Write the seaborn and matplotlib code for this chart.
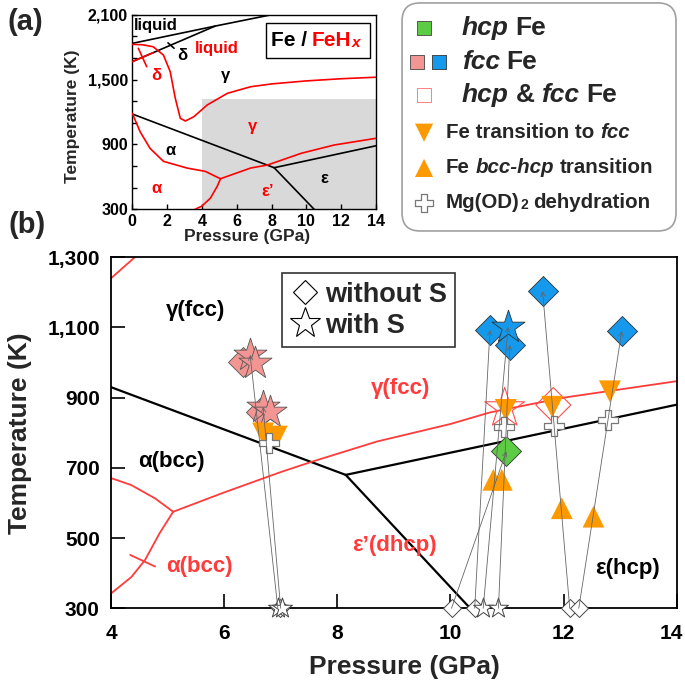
import numpy as np
import pandas as pd
import matplotlib.pyplot as plt
import matplotlib.transforms as mtransforms
import seaborn as sns
from matplotlib.lines import Line2D
from matplotlib.patches import Rectangle, FancyBboxPatch

sns.set_theme(style="ticks")
plt.rcParams["font.family"] = ["Liberation Sans", "DejaVu Sans"]
plt.rcParams["font.weight"] = "bold"
plt.rcParams["axes.labelweight"] = "bold"
plt.rcParams["axes.edgecolor"] = "black"
plt.rcParams["xtick.color"] = "black"
plt.rcParams["ytick.color"] = "black"

RED_A = "#ff0000"
RED_B = "#ff3b3b"
PINK = "#f39592"
BLUE = "#1499ec"
GREEN = "#5ccc45"
ORANGE = "#ff9900"

# ---------------- panel (a): Fe / FeHx phase diagram ----------------
A_FE_AG_P = [0, 8.15]
A_FE_AG_T = [1182, 685]
A_FE_AE_P = [8.15, 10.45]
A_FE_AE_T = [685, 300]
A_FE_GE_P = [8.15, 14]
A_FE_GE_T = [685, 888]
A_FE_LIQ_P = [0, 4.76, 8.0]
A_FE_LIQ_T = [1835, 1995, 2100]
A_FE_DG_P = [0, 4.76]
A_FE_DG_T = [1666, 1995]
A_FE_TICK_P = [2.05, 2.4]
A_FE_TICK_T = [1840, 1790]

A_FEH_LIQ_P = [0, 0.6, 1.2, 1.79, 2.18, 2.47, 2.76, 3.05, 3.53, 4.3, 5.46, 6.8, 8, 10, 12, 14]
A_FEH_LIQ_T = [1826, 1822, 1804, 1727, 1573, 1327, 1142, 1117, 1156, 1265, 1373, 1434, 1460, 1488, 1508, 1522]
A_FEH_DG_P = [0, 1.2]
A_FEH_DG_T = [1666, 1749]
A_FEH_TICK_P = [0.35, 0.83]
A_FEH_TICK_T = [1789, 1619]
A_FEH_AUP_P = [0, 0.45, 1.02, 1.79, 3.14, 4.2, 4.78, 5.07]
A_FEH_AUP_T = [1188, 1018, 864, 744, 682, 651, 605, 583]
A_FEH_ALO_P = [5.07, 4.88, 4.49, 4.0, 3.6]
A_FEH_ALO_T = [583, 513, 404, 330, 300]
A_FEH_GE_P = [5.07, 6.8, 7.77, 9.7, 11.6, 14]
A_FEH_GE_T = [583, 682, 710, 818, 895, 957]

A_LABELS = [  # text, P, T, colour
    ("δ", 2.85, 1727, "black"), ("liquid", 4.88, 1789, RED_A),
    ("δ", 1.41, 1542, RED_A), ("γ", 5.36, 1542, "black"),
    ("γ", 6.9, 1064, RED_A), ("α", 2.18, 848, "black"),
    ("α", 1.41, 494, RED_A), ("ε’", 7.77, 463, RED_A),
    ("ε", 11.04, 587, "black"),
]

# ---------------- panel (b): experiments ----------------
B_FE_AG_P = [4, 8.15]
B_FE_AG_T = [930, 680]
B_FE_GE_P = [8.15, 14]
B_FE_GE_T = [680, 880]
B_FE_AE_P = [8.15, 10.35]
B_FE_AE_T = [680, 300]

B_FEH_TOP_P = [4, 4.42]
B_FEH_TOP_T = [1240, 1300]
B_FEH_GE_P = [5.1, 6, 7, 7.56, 8.7, 10, 10.7, 12, 14]
B_FEH_GE_T = [575, 630, 688, 718, 775, 825, 858, 900, 947]
B_FEH_AUP_P = [4, 4.36, 4.78, 5.1]
B_FEH_AUP_T = [671, 651, 613, 575]
B_FEH_ALO_P = [5.1, 4.86, 4.6, 4.36, 4.0]
B_FEH_ALO_T = [575, 514, 437, 389, 342]
B_FEH_TICK_P = [4.34, 4.78]
B_FEH_TICK_T = [452, 419]

HCP_D_P = [10.99]
HCP_D_T = [747]
FCC_PINK_D_P = [6.34, 6.66]
FCC_PINK_D_T = [1003, 860]
FCC_PINK_S_P = [6.46, 6.55, 6.69, 6.81]
FCC_PINK_S_T = [1022, 998, 874, 860]
FCC_BLUE_D_P = [10.7, 11.63, 11.05, 13.03]
FCC_BLUE_D_T = [1093, 1204, 1050, 1090]
FCC_BLUE_S_P = [11.02]
FCC_BLUE_S_T = [1102]
MIX_S_P = [10.96]
MIX_S_T = [870]
MIX_D_P = [11.82]
MIX_D_T = [879]
TO_FCC_P = [6.69, 6.93, 10.98, 11.8, 12.82]
TO_FCC_T = [798, 789, 865, 874, 918]
BCC_HCP_P = [10.76, 10.91, 11.97, 12.53]
BCC_HCP_T = [666, 666, 585, 561]
DEHYD_P = [6.8, 10.94, 11.83, 12.79]
DEHYD_T = [770, 817, 820, 837]
START_D_P = [6.99, 10.02, 10.43, 12.11, 12.27]
START_S_P = [6.95, 7.03, 10.58, 10.85]

PATH_START_P = [6.95, 7.0, 10.02, 10.43, 10.58, 10.85, 12.11, 12.27]
PATH_END_P = [6.46, 6.69, 10.99, 10.7, 11.02, 11.05, 11.63, 13.03]
PATH_END_T = [1022, 874, 747, 1093, 1102, 1050, 1204, 1090]

B_LABELS = [  # text, P, T, colour, ha
    ("γ(fcc)", 5.5, 1147, "black", "center"),
    ("α(bcc)", 5.07, 717, "black", "center"),
    ("α(bcc)", 5.57, 418, RED_B, "center"),
    ("γ(fcc)", 9.64, 925, RED_B, "right"),
    ("ε’(dhcp)", 9.76, 480, RED_B, "right"),
    ("ε(hcp)", 13.13, 414, "black", "center"),
]


def phase_line(ax, p, t, color, lw, z=2):
    sns.lineplot(x=p, y=t, sort=False, estimator=None, color=color,
                 lw=lw, ax=ax, zorder=z)


def points(ax, p, t, marker, s, face, edge, lw=0.6, z=3):
    sns.scatterplot(x=p, y=t, marker=marker, s=s, color=face,
                    edgecolor=edge, linewidth=lw, ax=ax, zorder=z,
                    clip_on=False, legend=False)


def rich_text(ax, x, y, parts, size, **kw):
    """Chain text pieces with different styles on one line."""
    text, style, _ = parts[0]
    first = ax.text(x, y, text, va="center", ha="left", fontsize=size,
                    fontweight="bold", **{**kw, **style})
    prev = first
    for text, style, gap in parts[1:]:
        opts = dict(fontsize=size, fontweight="bold")
        opts.update(kw)
        opts.update(style)
        prev = ax.annotate(text, xy=(1, 0), xycoords=(prev, first),
                           xytext=(gap, 0), textcoords="offset points",
                           va="bottom", ha="left", **opts)
    return first


fig = plt.figure(figsize=(6.85, 6.85), dpi=100)
ax_a = fig.add_axes([0.1931, 0.6944, 0.3558, 0.2841])
ax_b = fig.add_axes([0.1620, 0.1120, 0.8258, 0.5124])
ax_l = fig.add_axes([0.584, 0.6599, 0.4058, 0.3377])

# ---- (a)
ax_a.add_patch(Rectangle((4, 300), 10, 1020, color="#d9d9d9", lw=0, zorder=0))
for p, t in [(A_FE_AG_P, A_FE_AG_T), (A_FE_AE_P, A_FE_AE_T), (A_FE_GE_P, A_FE_GE_T),
             (A_FE_LIQ_P, A_FE_LIQ_T), (A_FE_DG_P, A_FE_DG_T), (A_FE_TICK_P, A_FE_TICK_T)]:
    phase_line(ax_a, p, t, "black", 1.2)
for p, t in [(A_FEH_LIQ_P, A_FEH_LIQ_T), (A_FEH_DG_P, A_FEH_DG_T), (A_FEH_TICK_P, A_FEH_TICK_T),
             (A_FEH_AUP_P, A_FEH_AUP_T), (A_FEH_ALO_P, A_FEH_ALO_T), (A_FEH_GE_P, A_FEH_GE_T)]:
    phase_line(ax_a, p, t, RED_A, 1.2, z=3)

ax_a.text(0.1, 2000, "liquid", ha="left", va="center", fontsize=12, color="black")
for s, p, t, c in A_LABELS:
    ax_a.text(p, t, s, ha="center", va="center", fontsize=12, color=c)

ax_a.add_patch(Rectangle((7.67, 1697), 5.97, 323, facecolor="white",
                         edgecolor="black", lw=1.0, zorder=4))
rich_text(ax_a, 7.96, 1858,
          [("Fe /", {"color": "black"}, 0),
           ("FeH", {"color": RED_A}, 3.5),
           ("x", {"color": RED_A, "fontstyle": "italic", "fontsize": 11}, 0.3)],
          15, zorder=5)

ax_a.set_xlim(0, 14)
ax_a.set_ylim(300, 2100)
ax_a.set_xticks(range(0, 15, 2))
yt_a = list(range(300, 2101, 200))
ax_a.set_yticks(yt_a)
ax_a.set_yticklabels([f"{v:,}" if (v - 300) % 600 == 0 else "" for v in yt_a])
ax_a.tick_params(direction="in", length=3.5, width=1, labelsize=11.5, pad=3)
for lab in ax_a.get_xticklabels() + ax_a.get_yticklabels():
    lab.set_fontweight("bold")
for sp in ax_a.spines.values():
    sp.set_linewidth(1.0)
ax_a.set_xlabel("Pressure (GPa)", fontsize=12.5)
ax_a.set_ylabel("Temperature (K)", fontsize=12.5)
ax_a.xaxis.set_label_coords(0.473, -0.1)
ax_a.yaxis.set_label_coords(-0.215, 0.479)

# ---- (b)
for p, t in [(B_FE_AG_P, B_FE_AG_T), (B_FE_GE_P, B_FE_GE_T), (B_FE_AE_P, B_FE_AE_T)]:
    phase_line(ax_b, p, t, "black", 1.6)
for p, t in [(B_FEH_TOP_P, B_FEH_TOP_T), (B_FEH_GE_P, B_FEH_GE_T), (B_FEH_AUP_P, B_FEH_AUP_T),
             (B_FEH_ALO_P, B_FEH_ALO_T), (B_FEH_TICK_P, B_FEH_TICK_T)]:
    phase_line(ax_b, p, t, RED_B, 1.3)

for s, p, t, c, ha in B_LABELS:
    ax_b.text(p, t, s, ha=ha, va="center", fontsize=16, color=c)

# start points (300 K)
points(ax_b, START_D_P, [300] * len(START_D_P), "D", 84, "white", "#444", 0.7, z=3)
points(ax_b, START_S_P, [300] * len(START_S_P), "*", 228, "white", "#444", 0.7, z=3)

# heated points
points(ax_b, FCC_PINK_D_P, FCC_PINK_D_T, "D", 234, PINK, "#555", 0.6)
points(ax_b, FCC_PINK_S_P, FCC_PINK_S_T, "*", 625, PINK, "#555", 0.6)
points(ax_b, FCC_BLUE_D_P, FCC_BLUE_D_T, "D", 234, BLUE, "#333", 0.6)
points(ax_b, FCC_BLUE_S_P, FCC_BLUE_S_T, "*", 625, BLUE, "#333", 0.6)
points(ax_b, HCP_D_P, HCP_D_T, "D", 234, GREEN, "#333", 0.6)
points(ax_b, MIX_S_P, MIX_S_T, "*", 900, "none", "#ff5050", 0.8)
points(ax_b, MIX_D_P, MIX_D_T, "D", 317, "none", "#ff5050", 0.8)
points(ax_b, TO_FCC_P, TO_FCC_T, "v", 250, ORANGE, "none", 0, z=3.5)
points(ax_b, BCC_HCP_P, BCC_HCP_T, "^", 245, ORANGE, "none", 0, z=3.5)
points(ax_b, DEHYD_P, DEHYD_T, "P", 200, "white", "#777", 0.9, z=3.6)

# heating paths
for p0, p1, t1 in zip(PATH_START_P, PATH_END_P, PATH_END_T):
    ax_b.annotate("", xy=(p1, t1), xytext=(p0, 300),
                  arrowprops=dict(arrowstyle="->", color="#666", lw=0.6,
                                  shrinkA=0, shrinkB=0, mutation_scale=8),
                  zorder=5)

handles = [Line2D([], [], marker="D", ls="none", mfc="white", mec="black", ms=12.5, mew=0.8),
           Line2D([], [], marker="*", ls="none", mfc="white", mec="black", ms=23, mew=0.8)]
leg = ax_b.legend(handles, ["without S", "with S"], loc="upper left",
                  bbox_to_anchor=(0.302, 0.954), frameon=True, fancybox=False,
                  edgecolor="black", prop=dict(weight="bold", size=19.5),
                  handletextpad=0.2, borderpad=0.3, labelspacing=0.2,
                  handlelength=1.1, borderaxespad=0)
leg.get_frame().set_linewidth(1.2)

ax_b.set_xlim(4, 14)
ax_b.set_ylim(300, 1300)
ax_b.set_xticks(range(4, 15, 2))
yt_b = list(range(300, 1301, 200))
ax_b.set_yticks(yt_b)
ax_b.set_yticklabels([f"{v:,}" for v in yt_b])
ax_b.tick_params(direction="in", length=10, width=1.2, labelsize=15)
ax_b.tick_params(axis="x", pad=11.5)
ax_b.tick_params(axis="y", pad=8)
for lab in ax_b.get_xticklabels() + ax_b.get_yticklabels():
    lab.set_fontweight("bold")
# keep the last x label inside the canvas
last = ax_b.get_xticklabels()[-1]
last.set_transform(last.get_transform() +
                   mtransforms.ScaledTranslation(-4 / 72, 0, fig.dpi_scale_trans))
for sp in ax_b.spines.values():
    sp.set_linewidth(1.3)
ax_b.set_xlabel("Pressure (GPa)", fontsize=19)
ax_b.set_ylabel("Temperature (K)", fontsize=19)
ax_b.xaxis.set_label_coords(0.518, -0.133)
ax_b.yaxis.set_label_coords(-0.1397, 0.5)

# ---- symbol key (pixel coordinates)
ax_l.set_xlim(400, 678)
ax_l.set_ylim(233, 1.7)
ax_l.axis("off")
ax_l.add_patch(FancyBboxPatch((402, 3), 274, 228, boxstyle="round,pad=0,rounding_size=18",
                              facecolor="white", edgecolor="#a0a0a0", lw=1.2))
points(ax_l, [424], [28.3], "s", 95, GREEN, "#444", 0.6)
points(ax_l, [416.7, 439.3], [61.7, 61.7], "s", 95, PINK, "#444", 0.6)
points(ax_l, [439.3], [61.7], "s", 95, BLUE, "#444", 0.6)
points(ax_l, [424], [95], "s", 95, "white", "#ff8080", 0.7)
points(ax_l, [424], [132.7], "v", 170, ORANGE, "none", 0)
points(ax_l, [424], [168], "^", 170, ORANGE, "none", 0)
points(ax_l, [424], [203], "P", 160, "white", "#777", 0.9)

BI = {"fontstyle": "italic"}
N = {}
rich_text(ax_l, 461.7, 28.3, [("hcp", BI, 0), ("Fe", N, 5)], 19)
rich_text(ax_l, 461.7, 62, [("fcc", BI, 0), ("Fe", N, 5)], 19)
rich_text(ax_l, 461.7, 95, [("hcp", BI, 0), ("&", N, 5), ("fcc", BI, 5), ("Fe", N, 5)], 19)
rich_text(ax_l, 446, 133, [("Fe transition to", N, 0), ("fcc", BI, 4)], 14.8)
rich_text(ax_l, 446, 168, [("Fe", N, 0), ("bcc-hcp", BI, 4), ("transition", N, 4)], 14.8)
rich_text(ax_l, 446, 203, [("Mg(OD)", N, 0), ("2", {"fontsize": 10}, 0.3), ("dehydration", N, 4)], 14.8)

fig.text(25 / 685, 1 - 22 / 685, "(a)", fontsize=21, ha="center", va="center")
fig.text(27 / 685, 1 - 225 / 685, "(b)", fontsize=21, ha="center", va="center")

fig.savefig("out.png", dpi=100)
